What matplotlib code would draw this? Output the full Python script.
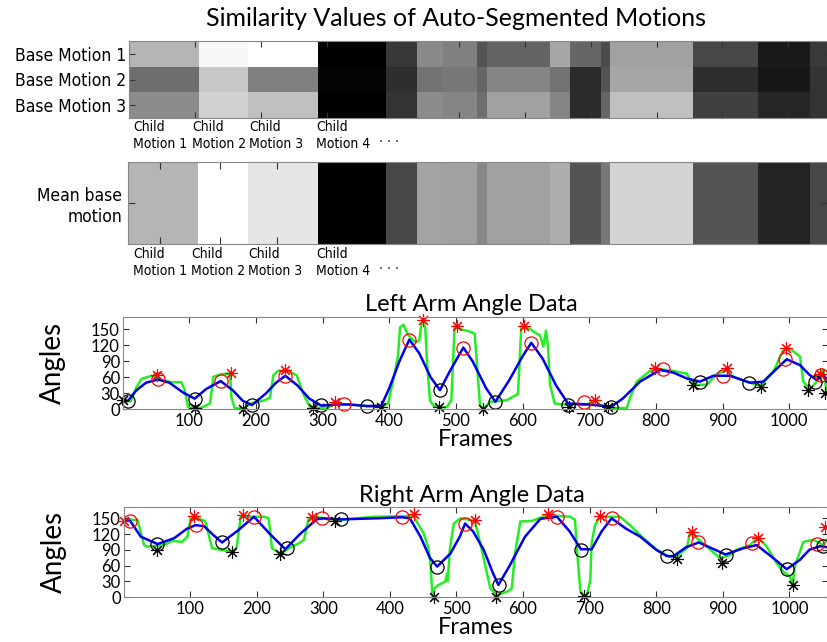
import matplotlib
matplotlib.use('Agg')
import matplotlib.pyplot as plt
import numpy as np

plt.rcParams.update({
    'font.family': 'Lato',
    'xtick.direction': 'in',
    'ytick.direction': 'in',
    'xtick.top': True,
    'ytick.right': True,
    'axes.edgecolor': '#888888',
    'xtick.color': '#333333',
    'ytick.color': '#333333',
    'xtick.labelcolor': 'black',
    'ytick.labelcolor': 'black',
})

# ---- similarity heatmaps ----
seg_edges = [0, 106, 181, 287, 390, 437, 476, 528, 543, 639, 669, 716, 730, 856, 954, 1032, 1062]
base1 = [0.71, 0.97, 1.00, 0.00, 0.22, 0.54, 0.50, 0.33, 0.39, 0.65, 0.40, 0.30, 0.63, 0.28, 0.10, 0.23]
base2 = [0.43, 0.78, 0.50, 0.02, 0.18, 0.45, 0.47, 0.40, 0.52, 0.45, 0.17, 0.33, 0.65, 0.18, 0.09, 0.20]
base3 = [0.55, 0.82, 0.75, 0.00, 0.20, 0.55, 0.52, 0.43, 0.63, 0.52, 0.17, 0.40, 0.75, 0.25, 0.15, 0.20]
mean_base = [0.71, 1.00, 0.90, 0.00, 0.28, 0.64, 0.63, 0.53, 0.63, 0.68, 0.33, 0.47, 0.83, 0.33, 0.14, 0.28]
base_labels = ['Base Motion 1', 'Base Motion 2', 'Base Motion 3']
child_labels = ['Child\nMotion 1', 'Child\nMotion 2', 'Child\nMotion 3', 'Child\nMotion 4']
mean_ticks = [48, 140, 225]

# ---- left arm ----
l_raw_f = [0, 5, 12, 20, 28, 43, 58, 73, 88, 93, 98, 108, 118, 131, 136, 148, 161, 163, 168, 180,
           193, 213, 221, 226, 233, 248, 261, 271, 281, 290, 308, 318, 341, 388, 398, 408, 413, 416,
           421, 428, 436, 441, 445, 448, 451, 454, 457, 461, 466, 476, 486, 493, 498, 506, 523, 528,
           531, 536, 541, 551, 576, 593, 598, 611, 621, 626, 631, 635, 638, 641, 648, 669, 696, 708,
           716, 726, 756, 761, 771, 796, 826, 846, 856, 876, 891, 906, 916, 936, 956, 976, 991, 1001,
           1016, 1021, 1031, 1041, 1046, 1051, 1056]
l_raw_v = [20, 15, 15, 40, 57, 63, 55, 51, 51, 36, 4, 2, 3, 11, 61, 66, 67, 23, 2.5, 1,
           11, 17, 22, 64, 72, 72, 64, 29, 4, 3, 3, 11, 9, 4, 11, 67, 101, 154,
           159, 140, 129, 126, 130, 160, 167, 150, 79, 17, 7, 4, 4, 17, 157, 151, 145, 142,
           92, 7.5, 1, 14, 17, 29, 157, 151, 142, 139, 118, 148, 118, 46, 11, 8, 9, 17,
           8, 3, 2, 21, 52, 77, 72, 67, 46, 46, 66, 74, 61, 52, 44, 71, 111, 114,
           99, 52, 38, 52, 67, 74, 33]
l_smooth_f = [0, 8, 20, 35, 53, 70, 90, 108, 125, 147, 165, 180, 194, 215, 230, 244, 262, 280, 298,
              320, 340, 367, 388, 400, 415, 430, 445, 462, 476, 490, 511, 525, 545, 559, 580, 600,
              613, 630, 650, 668, 700, 733, 750, 776, 806, 826, 846, 866, 886, 911, 941, 961, 980,
              996, 1016, 1030, 1041, 1051, 1056]
l_smooth_v = [17, 16, 35, 50, 56, 50, 32, 20, 38, 53, 36, 16, 8, 30, 50, 63, 45, 20, 7,
              9, 9, 6, 7, 40, 90, 131, 105, 60, 36, 70, 116, 90, 40, 14, 55, 100,
              125, 95, 45, 11, 9, 5, 20, 52, 74, 69, 58, 52, 63, 63, 50, 52, 75,
              94, 83, 65, 55, 66, 52]
l_rmax_f = [51, 162, 244, 318, 450, 501, 602, 708, 798, 906, 995, 1046]
l_rmax_v = [65, 69, 73, 14, 167, 157, 157, 17.5, 78, 78, 116, 67]
l_smax_f = [53.5, 147, 244, 332, 430, 511, 613, 692, 811, 901, 994, 1048]
l_smax_v = [56, 53, 62, 10, 131, 116, 125, 14, 76, 63, 94, 64]
l_rmin_f = [1, 108, 180, 286, 388, 475, 541, 669, 728, 856, 957, 1028, 1054]
l_rmin_v = [18, 2.5, 0, 2.5, 4, 4, 0, 4, 5, 46, 42.5, 36, 30]
l_smin_f = [8.5, 108, 194, 298, 367, 476, 559, 668, 733, 866, 940, 1038]
l_smin_v = [16, 20, 8, 8, 6, 36, 14, 9, 5, 52, 49, 52]

# ---- right arm ----
r_raw_f = [0, 21, 31, 36, 61, 73, 88, 96, 101, 113, 123, 133, 146, 164, 170, 176, 211, 218, 223,
           236, 248, 263, 271, 278, 291, 306, 326, 376, 431, 436, 451, 458, 461, 464, 467, 473,
           483, 486, 487, 490, 496, 506, 521, 528, 538, 551, 561, 576, 583, 588, 596, 613, 636,
           671, 678, 681, 686, 691, 696, 701, 703, 708, 716, 746, 763, 781, 801, 821, 831, 846,
           851, 856, 876, 896, 911, 921, 941, 953, 966, 981, 991, 1001, 1005, 1008, 1021, 1036,
           1051, 1056]
r_raw_v = [147, 147, 99, 96, 99, 107, 105, 115, 153, 150, 144, 93, 90, 86, 95, 153, 153, 150, 93,
           82, 93, 102, 109, 150, 153, 148, 147, 153, 154, 153, 121, 93, 64, 2, 16, 23,
           29, 45, 30, 90, 140, 150, 147, 144, 90, 16, 4, 10, 16, 83, 144, 145, 156,
           153, 147, 90, 13, 1, 4, 32, 102, 137, 153, 153, 134, 112, 90, 76, 78, 93,
           125, 118, 96, 74, 80, 90, 99, 115, 96, 64, 48, 39, 23, 58, 105, 109,
           99, 109]
r_smooth_f = [0, 10, 26, 51, 76, 95, 108, 121, 135, 148, 170, 196, 220, 243, 265, 290, 300, 326,
              380, 418, 430, 446, 460, 471, 491, 505, 513, 525, 541, 555, 563, 580, 603, 626, 651,
              670, 687, 703, 718, 733, 755, 776, 800, 816, 826, 845, 864, 885, 904, 931, 951, 975,
              996, 1016, 1030, 1046, 1056]
r_smooth_v = [147, 145, 115, 101, 112, 130, 137, 135, 118, 104, 125, 153, 120, 91, 120, 148, 150, 148,
              150, 152, 150, 115, 75, 58, 83, 115, 140, 125, 90, 45, 23, 60, 115, 149, 153,
              125, 91, 91, 125, 150, 130, 115, 90, 78, 78, 95, 104, 92, 81, 93, 99, 75,
              53, 71, 90, 97, 95]
r_rmax_f = [1, 106, 180, 283.5, 437, 528.5, 637, 715, 853.5, 953.5, 1054]
r_rmax_v = [145, 154, 156, 153, 158, 147, 158, 154, 123, 113, 133]
r_smax_f = [10, 108.5, 196, 298.5, 418.5, 513.5, 651, 733.5, 863.5, 943.5, 1041]
r_smax_v = [145, 137, 153, 150, 153, 140, 153, 151, 104, 102, 101]
r_rmin_f = [51, 163.5, 235, 317, 466, 560, 692, 831, 898.5, 1005]
r_rmin_v = [90, 86, 82, 145, 0.6, 0.6, 2.5, 72, 65, 23]
r_smin_f = [51, 148.5, 246, 326, 471, 563.5, 687, 816, 904.5, 996, 1050]
r_smin_v = [101, 104, 93, 148, 58, 23, 90, 78, 81, 53, 97]

W, H = 827, 642
fig = plt.figure(figsize=(W / 100, H / 100), dpi=100)


def box(x0, y0, x1, y1):
    # pixel box (top-left origin) -> figure fraction
    return [x0 / W, 1 - y1 / H, (x1 - x0) / W, (y1 - y0) / H]


cond = dict(family='DejaVu Sans', stretch='condensed')

# heatmap of base motions
ax1 = fig.add_axes(box(129, 41, 828, 118))
ax1.pcolormesh(seg_edges, [0, 1, 2, 3], np.array([base1, base2, base3]),
               cmap='gray', vmin=0, vmax=1)
ax1.set_xlim(0, 1060)
ax1.set_ylim(3, 0)
ax1.set_xticks(np.arange(100, 1001, 100))
ax1.set_xticklabels([])
ax1.set_yticks([0.5, 1.5, 2.5])
ax1.set_yticklabels(base_labels, fontsize=12.5, **cond)
ax1.tick_params(length=4, pad=2)
fig.text(456 / W, 1 - 19 / H, 'Similarity Values of Auto-Segmented Motions',
         ha='center', va='center', fontsize=18)

# mean strip
ax2 = fig.add_axes(box(128, 162, 828, 244))
ax2.pcolormesh(seg_edges, [0, 1], np.array([mean_base]), cmap='gray', vmin=0, vmax=1)
ax2.set_xlim(0, 1060)
ax2.set_ylim(0, 1)
ax2.set_xticks(mean_ticks)
ax2.set_xticklabels([])
ax2.set_yticks([0.5])
ax2.set_yticklabels(['Mean base\nmotion'], fontsize=12.5, multialignment='right', **cond)
ax2.tick_params(length=5, pad=4)

for xs, ytop in [((133, 192, 249, 316), 120), ((133, 191, 248, 316), 247)]:
    for x, lab in zip(xs, child_labels):
        fig.text(x / W, 1 - ytop / H, lab, ha='left', va='top', fontsize=10,
                 linespacing=1.3, **cond)
    fig.text(389 / W, 1 - (ytop + 18) / H, '. . .', ha='center', va='center', fontsize=10, **cond)


def arm_plot(ax, title, raw_f, raw_v, sm_f, sm_v, rmax, smax, rmin, smin, ytop):
    ax.plot(raw_f, raw_v, color='#22ee22', lw=1.8)
    ax.plot(sm_f, sm_v, color='#0000ee', lw=1.8)
    ast = (8, 2, 0)
    ax.plot(*rmax, ls='none', marker=ast, ms=9, mec='#ff0000', mew=0.8, clip_on=False)
    ax.plot(*smax, ls='none', marker='o', ms=9.5, mfc='none', mec='#ff0000', mew=0.9, clip_on=False)
    ax.plot(*rmin, ls='none', marker=ast, ms=9, mec='black', mew=0.8, clip_on=False)
    ax.plot(*smin, ls='none', marker='o', ms=9.5, mfc='none', mec='black', mew=0.9, clip_on=False)
    ax.set_xlim(0, 1058)
    ax.set_ylim(0, ytop)
    ax.set_xticks(np.arange(100, 1001, 100))
    ax.set_yticks(np.arange(0, 151, 30))
    ax.tick_params(labelsize=12, length=4, pad=2)
    ax.tick_params(axis='x', pad=3)
    ax.set_title(title, fontsize=17, x=0.4945, pad=4)
    ax.set_xlabel('Frames', fontsize=17, labelpad=0)
    ax.set_ylabel('Angles', fontsize=20)
    ax.yaxis.set_label_coords(-0.08, 0.5)


axl = fig.add_axes(box(122.7, 316.7, 828, 409.3))
arm_plot(axl, 'Left Arm Angle Data', l_raw_f, l_raw_v, l_smooth_f, l_smooth_v,
         (l_rmax_f, l_rmax_v), (l_smax_f, l_smax_v), (l_rmin_f, l_rmin_v), (l_smin_f, l_smin_v), 174)

axr = fig.add_axes(box(123.5, 507.3, 828, 597))
arm_plot(axr, 'Right Arm Angle Data', r_raw_f, r_raw_v, r_smooth_f, r_smooth_v,
         (r_rmax_f, r_rmax_v), (r_smax_f, r_smax_v), (r_rmin_f, r_rmin_v), (r_smin_f, r_smin_v), 171)

fig.savefig('out.png', dpi=100)
